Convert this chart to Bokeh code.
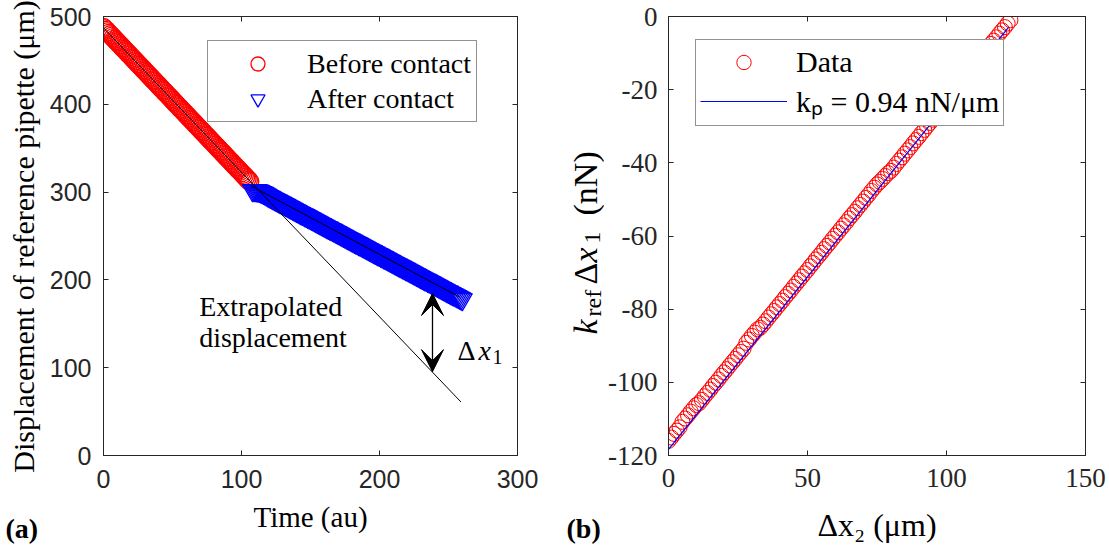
import math
from bokeh.plotting import figure
from bokeh.layouts import row
from bokeh.models import (Range1d, LinearAxis, Legend, LegendItem, Arrow,
                          VeeHead, FixedTicker)
from bokeh.core.properties import value
from bokeh.embed import file_html
from bokeh.resources import INLINE

# ---------------- data: panel (a) ----------------
before_t = [0, 1, 2, 3, 4, 5, 6, 7, 8, 9, 10, 11, 12, 13, 14, 15, 16, 17, 18, 19, 20, 21, 22,
            23, 24, 25, 26, 27, 28, 29, 30, 31, 32, 33, 34, 35, 36, 37, 38, 39, 40, 41, 42, 43,
            44, 45, 46, 47, 48, 49, 50, 51, 52, 53, 54, 55, 56, 57, 58, 59, 60, 61, 62, 63, 64,
            65, 66, 67, 68, 69, 70, 71, 72, 73, 74, 75, 76, 77, 78, 79, 80, 81, 82, 83, 84, 85,
            86, 87, 88, 89, 90, 91, 92, 93, 94, 95, 96, 97, 98, 99, 100, 101, 102, 103, 104,
            105, 106]
before_v = [487.5, 485.8, 484.2, 482.5, 480.9, 479.2, 477.6, 475.9, 474.3, 472.6, 471.0, 469.3,
            467.6, 466.0, 464.3, 462.7, 461.0, 459.4, 457.7, 456.1, 454.4, 452.7, 451.1, 449.4,
            447.8, 446.1, 444.5, 442.8, 441.2, 439.5, 437.9, 436.2, 434.5, 432.9, 431.2, 429.6,
            427.9, 426.3, 424.6, 423.0, 421.3, 419.6, 418.0, 416.3, 414.7, 413.0, 411.4, 409.7,
            408.1, 406.4, 404.8, 403.1, 401.4, 399.8, 398.1, 396.5, 394.8, 393.2, 391.5, 389.9,
            388.2, 386.5, 384.9, 383.2, 381.6, 379.9, 378.3, 376.6, 375.0, 373.3, 371.7, 370.0,
            368.3, 366.7, 365.0, 363.4, 361.7, 360.1, 358.4, 356.8, 355.1, 353.4, 351.8, 350.1,
            348.5, 346.8, 345.2, 343.5, 341.9, 340.2, 338.6, 336.9, 335.2, 333.6, 331.9, 330.3,
            328.6, 327.0, 325.3, 323.7, 322.0, 320.3, 318.7, 317.0, 315.4, 313.7, 312.1]
after_t = [108, 109, 110, 111, 112, 113, 114, 115, 116, 117, 118, 119, 120, 121, 122, 123, 124,
           125, 126, 127, 128, 129, 130, 131, 132, 133, 134, 135, 136, 137, 138, 139, 140, 141,
           142, 143, 144, 145, 146, 147, 148, 149, 150, 151, 152, 153, 154, 155, 156, 157, 158,
           159, 160, 161, 162, 163, 164, 165, 166, 167, 168, 169, 170, 171, 172, 173, 174, 175,
           176, 177, 178, 179, 180, 181, 182, 183, 184, 185, 186, 187, 188, 189, 190, 191, 192,
           193, 194, 195, 196, 197, 198, 199, 200, 201, 202, 203, 204, 205, 206, 207, 208, 209,
           210, 211, 212, 213, 214, 215, 216, 217, 218, 219, 220, 221, 222, 223, 224, 225, 226,
           227, 228, 229, 230, 231, 232, 233, 234, 235, 236, 237, 238, 239, 240, 241, 242, 243,
           244, 245, 246, 247, 248, 249, 250, 251, 252, 253, 254, 255, 256, 257, 258, 259, 260]
after_v = [302.0, 302.0, 302.0, 301.8, 301.5, 301.0, 300.3, 299.6, 298.9, 298.0, 297.0, 295.9,
           295.1, 294.3, 293.4, 292.6, 291.8, 290.9, 290.1, 289.2, 288.4, 287.6, 286.7, 285.9,
           285.1, 284.2, 283.4, 282.5, 281.7, 280.9, 280.0, 279.2, 278.3, 277.5, 276.7, 275.8,
           275.0, 274.2, 273.3, 272.5, 271.6, 270.8, 270.0, 269.1, 268.3, 267.5, 266.6, 265.8,
           264.9, 264.1, 263.3, 262.4, 261.6, 260.7, 259.9, 259.1, 258.2, 257.4, 256.6, 255.7,
           254.9, 254.0, 253.2, 252.4, 251.5, 250.7, 249.9, 249.0, 248.2, 247.3, 246.5, 245.7,
           244.8, 244.0, 243.1, 242.3, 241.5, 240.6, 239.8, 239.0, 238.1, 237.3, 236.4, 235.6,
           234.8, 233.9, 233.1, 232.3, 231.4, 230.6, 229.7, 228.9, 228.1, 227.2, 226.4, 225.5,
           224.7, 223.9, 223.0, 222.2, 221.4, 220.5, 219.7, 218.8, 218.0, 217.2, 216.3, 215.5,
           214.7, 213.8, 213.0, 212.1, 211.3, 210.5, 209.6, 208.8, 207.9, 207.1, 206.3, 205.4,
           204.6, 203.8, 202.9, 202.1, 201.2, 200.4, 199.6, 198.7, 197.9, 197.1, 196.2, 195.4,
           194.5, 193.7, 192.9, 192.0, 191.2, 190.3, 189.5, 188.7, 187.8, 187.0, 186.2, 185.3,
           184.5, 183.6, 182.8, 182.0, 181.1, 180.3, 179.4, 178.6, 177.8]
extrap_t = [0, 259]
extrap_v = [487, 61]
afterfit_t = [107, 258]
afterfit_v = [307, 180.5]
arrow_t = 238.4
arrow_v = [95.5, 184.5]

# ---------------- data: panel (b) ----------------
dx2 = [0, 1, 2, 3, 4, 5, 6, 7, 8, 9, 10, 11, 12, 13, 14, 15, 16, 17, 18, 19, 20, 21, 22, 23,
       24, 25, 26, 27, 28, 29, 30, 31, 32, 33, 34, 35, 36, 37, 38, 39, 40, 41, 42, 43, 44, 45,
       46, 47, 48, 49, 50, 51, 52, 53, 54, 55, 56, 57, 58, 59, 60, 61, 62, 63, 64, 65, 66, 67,
       68, 69, 70, 71, 72, 73, 74, 75, 76, 77, 78, 79, 80, 81, 82, 83, 84, 85, 86, 87, 88, 89,
       90, 91, 92, 93, 94, 95, 96, 97, 98, 99, 100, 101, 102, 103, 104, 105, 106, 107, 108,
       109, 110, 111, 112, 113, 114, 115, 116, 117, 118, 119, 120, 121, 122, 123]
force = [-116.0, -115.1, -114.1, -113.2, -112.3, -110.8, -109.9, -109.0, -108.0, -107.1,
         -106.2, -105.7, -104.8, -103.8, -102.9, -102.0, -101.0, -100.1, -99.2, -98.2, -97.3,
         -96.4, -95.4, -94.5, -93.6, -92.6, -91.7, -90.8, -89.2, -88.3, -87.3, -86.4, -85.5,
         -85.1, -84.2, -83.3, -82.3, -81.4, -80.5, -79.5, -78.6, -77.7, -76.7, -75.8, -74.9,
         -73.9, -73.0, -72.1, -71.1, -70.2, -69.3, -68.3, -67.4, -66.4, -65.5, -64.6, -63.6,
         -62.7, -61.8, -60.8, -59.9, -59.0, -58.0, -57.1, -56.2, -55.2, -54.3, -53.4, -52.4,
         -51.5, -50.6, -49.6, -48.7, -47.7, -46.8, -45.9, -45.2, -44.4, -43.6, -42.8, -42.2,
         -41.3, -40.3, -39.4, -38.5, -37.5, -36.6, -35.7, -34.7, -33.8, -32.9, -31.9, -31.0,
         -30.0, -29.1, -28.2, -27.2, -26.3, -25.4, -24.4, -23.5, -22.6, -21.6, -20.7, -19.6,
         -18.5, -17.4, -16.3, -15.2, -14.2, -13.2, -12.2, -11.3, -10.3, -9.4, -8.5, -7.5,
         -6.6, -5.7, -4.7, -3.8, -2.9, -1.9, -1.0]
fit_x = [0, 122.3]
fit_y = [-118.3, -3.0]

# ticks
a_xticks = [0, 100, 200, 300]
a_yticks = [0, 100, 200, 300, 400, 500]
b_xticks = [0, 50, 100, 150]
b_yticks = [-120, -100, -80, -60, -40, -20, 0]
b_yticklabels = ["-120", "-100", "-80", "-60", "-40", "-20", "0"]

SERIF = "Liberation Serif"
SANS = "Liberation Sans"
AX = "#262626"
H = 545


def base_fig(width, xr, yr, bl, br):
    p = figure(width=width, height=H, x_range=Range1d(*xr), y_range=Range1d(*yr),
               output_backend="svg", toolbar_location=None,
               min_border_left=bl, min_border_right=br, min_border_top=16,
               min_border_bottom=89, background_fill_color="white",
               border_fill_color="white")
    p.grid.visible = False
    p.outline_line_color = AX
    p.outline_line_width = 1
    return p


def strip_fig(width):
    # narrow text-only strip; its frame fills it, coordinates are pixels from the top-left
    s = figure(width=width, height=H, x_range=Range1d(0, width), y_range=Range1d(H, 0),
               output_backend="svg", toolbar_location=None, x_axis_type=None,
               y_axis_type=None, min_border=0, min_border_left=0, min_border_right=0,
               min_border_top=0, min_border_bottom=0, background_fill_color="white",
               border_fill_color="white")
    s.grid.visible = False
    s.outline_line_color = None
    try:
        s.frame_align = False
    except Exception:
        pass
    return s


def style_axis(ax, ticks, font, size, standoff, overrides=None):
    ax.ticker = FixedTicker(ticks=ticks)
    ax.minor_tick_line_color = None
    ax.major_tick_in = 5
    ax.major_tick_out = 0
    ax.major_tick_line_color = AX
    ax.axis_line_color = AX
    ax.major_label_text_font = font
    ax.major_label_text_font_size = size
    ax.major_label_text_color = AX
    ax.major_label_standoff = standoff
    ax.axis_label_text_font = SERIF
    ax.axis_label_text_font_style = "normal"
    ax.axis_label_text_color = "black"
    if overrides:
        ax.major_label_overrides = overrides


def mirror(p, xticks, yticks):
    for side, ticks in (("above", xticks), ("right", yticks)):
        ax = LinearAxis(ticker=FixedTicker(ticks=ticks))
        ax.minor_tick_line_color = None
        ax.major_tick_in = 5
        ax.major_tick_out = 0
        ax.major_tick_line_color = AX
        ax.axis_line_color = AX
        ax.major_label_text_font_size = "0px"
        ax.major_label_text_color = None
        ax.major_label_standoff = 0
        p.add_layout(ax, side)


def put_text(fig, x, y, txt, size, style="normal", angle=0.0, align="left",
             baseline="alphabetic"):
    fig.text(x=[x], y=[y], text=[txt], angle=angle, text_font=value(SERIF),
             text_font_size=size, text_font_style=style, text_color="black",
             text_align=align, text_baseline=baseline)


# ================= left strip: y label of (a) and "(a)" =================
sa = strip_fig(45)
put_text(sa, 23, 236, "Displacement of reference pipette (μm)", "30px",
         angle=math.pi / 2, align="center", baseline="middle")
put_text(sa, 5, 528, "(a)", "28px", style="bold")

# ================= panel (a) =================
p1 = base_fig(515, (0, 300), (0, 500), 58, 43)
style_axis(p1.xaxis[0], a_xticks, SANS, "25px", 14)
style_axis(p1.yaxis[0], a_yticks, SANS, "25px", 12)
p1.xaxis[0].axis_label = "Time (au)"
p1.xaxis[0].axis_label_text_font_size = "29px"
p1.xaxis[0].axis_label_standoff = 10
mirror(p1, a_xticks, a_yticks)

r_before = p1.scatter(before_t, before_v, marker="circle", size=18, fill_color=None,
                      line_color="red", line_width=1.3)
r_after = p1.scatter(after_t, after_v, marker="inverted_triangle", size=20, fill_color=None,
                     line_color="blue", line_width=1.3)
p1.line(extrap_t, extrap_v, line_color="black", line_width=1)
p1.line(afterfit_t, afterfit_v, line_color="black", line_width=1)

p1.add_layout(Arrow(start=VeeHead(size=22, fill_color="black", line_color="black"),
                    end=VeeHead(size=22, fill_color="black", line_color="black"),
                    x_start=arrow_t, y_start=arrow_v[0], x_end=arrow_t, y_end=arrow_v[1],
                    line_color="black", line_width=1.3))

p1.text(x=[69.3, 69.3], y=[169.3, 134.5], text=["Extrapolated", "displacement"],
        text_font=value(SERIF), text_font_size="28px", text_color="black",
        text_align="left", text_baseline="alphabetic")
p1.text(x=[256.5], y=[119.3], text=["Δ"], text_font=value(SERIF), text_font_size="28px",
        text_color="black", text_align="left", text_baseline="alphabetic")
p1.text(x=[256.5], y=[119.3], text=["x"], text_font=value(SERIF), text_font_size="28px",
        text_font_style="italic", text_color="black", text_align="left",
        text_baseline="alphabetic", x_offset=21)
p1.text(x=[256.5], y=[119.3], text=["1"], text_font=value(SERIF), text_font_size="20px",
        text_color="black", text_align="left", text_baseline="alphabetic",
        x_offset=35, y_offset=6)

leg1 = Legend(items=[LegendItem(label="Before contact", renderers=[r_before]),
                     LegendItem(label="After contact", renderers=[r_after])],
              location=(104, 333), orientation="vertical",
              label_text_font=SERIF, label_text_font_size="28px", label_text_color="black",
              glyph_width=89, glyph_height=35, spacing=0, padding=5, label_standoff=5,
              margin=0, border_line_color=AX, border_line_width=1,
              background_fill_color="white", background_fill_alpha=1.0)
p1.add_layout(leg1)

# ================= middle strip: y label of (b) and "(b)" =================
sb = strip_fig(44)
ylab = [("k", "italic", "34px", 25, 334),
        ("ref", "normal", "24px", 32, 316),
        ("Δ", "normal", "34px", 25, 284),
        ("x", "italic", "34px", 25, 262),
        ("1", "normal", "24px", 32, 243),
        ("(nN)", "normal", "34px", 25, 215)]
for txt, style, size, lx, ly in ylab:
    put_text(sb, lx, ly, txt, size, style=style, angle=math.pi / 2)
put_text(sb, 6, 528, "(b)", "28px", style="bold")

# ================= panel (b) =================
p2 = base_fig(505, (0, 150), (-120, 0), 64, 24)
style_axis(p2.xaxis[0], b_xticks, SERIF, "27px", 13)
style_axis(p2.yaxis[0], b_yticks, SERIF, "27px", 11,
           overrides={t: s for t, s in zip(b_yticks, b_yticklabels)})
p2.xaxis[0].axis_label = "Δx₂ (μm)"
p2.xaxis[0].axis_label_text_font_size = "32px"
p2.xaxis[0].axis_label_standoff = 17
mirror(p2, b_xticks, b_yticks)

r_data = p2.scatter(dx2, force, marker="circle", size=15, fill_color=None,
                    line_color="red", line_width=1)
r_fit = p2.line(fit_x, fit_y, line_color="blue", line_width=1.2)

leg2 = Legend(items=[LegendItem(label="Data", renderers=[r_data]),
                     LegendItem(label="kₚ = 0.94 nN/μm", renderers=[r_fit])],
              location=(27, 329), orientation="vertical",
              label_text_font=SERIF, label_text_font_size="30px", label_text_color="black",
              glyph_width=87, glyph_height=36, spacing=0, padding=4, label_standoff=9,
              margin=0, border_line_color=AX, border_line_width=1,
              background_fill_color="white", background_fill_alpha=1.0)
p2.add_layout(leg2)

layout = row(sa, p1, sb, p2, spacing=0)
open("out.html", "w").write(file_html(layout, INLINE))
